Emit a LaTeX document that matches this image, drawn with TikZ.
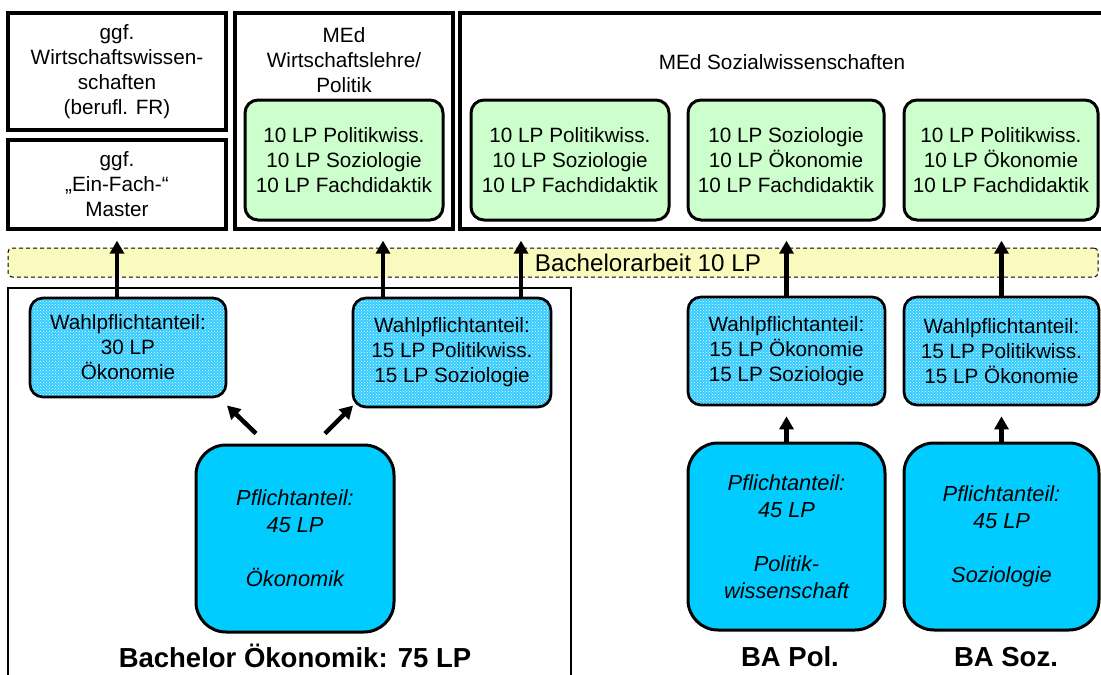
\documentclass[tikz,border=0pt]{standalone}
\usepackage{fontspec}
\setmainfont{Liberation Sans}
\usetikzlibrary{arrows.meta}
\usetikzlibrary{patterns}

\definecolor{medgreen}{RGB}{204,255,204}
\definecolor{pflichtblue}{RGB}{0,204,255}
\definecolor{wahlblue}{RGB}{51,204,255}
\definecolor{baryellow}{RGB}{250,250,190}

\begin{document}
\begin{tikzpicture}[
  x=1pt, y=-1pt,
  font=\fontsize{20.7}{25}\selectfont,
  frame/.style={draw, line width=3.3pt, inner sep=0pt, align=center},
  med/.style={draw, line width=3pt, rounded corners=13pt, fill=medgreen, align=center, minimum width=196pt, minimum height=120pt, inner sep=0pt},
  wahl/.style={draw, line width=2.7pt, rounded corners=13pt, preaction={fill=wahlblue}, pattern=crosshatch dots, pattern color=white, align=center, minimum height=108pt, inner sep=0pt},
  pflicht/.style={draw, line width=3pt, rounded corners=30pt, fill=pflichtblue, align=center, font=\fontsize{21.8}{27}\selectfont\itshape, minimum width=197pt, minimum height=187pt, inner sep=0pt},
  arrow/.style={-{Triangle[length=13pt,width=14pt]}, line width=4.5pt},
  title/.style={font=\fontsize{27.5}{30}\selectfont\bfseries}
]
\useasboundingbox (0,0) rectangle (1101,675);

% master programmes
\node[frame, minimum width=218pt, minimum height=117pt] (wiwi) at (117,71.5) {ggf.\\Wirtschaftswissen-\\schaften\\(berufl. FR)};
\node[frame, minimum width=218pt, minimum height=89pt] (einfach) at (117,184.5) {ggf.\\„Ein-Fach-“\\Master};
\node[frame, minimum width=218pt, minimum height=216pt] (medwl) at (344,121) {};
\node[align=center] (medwltxt) at (344,60) {MEd\\Wirtschaftslehre/\\Politik};
\node[frame, minimum width=645pt, minimum height=216pt] (medsw) at (782.5,121) {};
\node (medswtxt) at (782,62) {MEd Sozialwissenschaften};

\node[med, minimum width=198pt] (gwl)  at (344,160)  {10 LP Politikwiss.\\10 LP Soziologie\\10 LP Fachdidaktik};
\node[med, minimum width=198pt] (gsw1) at (570,160)  {10 LP Politikwiss.\\10 LP Soziologie\\10 LP Fachdidaktik};
\node[med]                      (gsw2) at (786,160)  {10 LP Soziologie\\10 LP Ökonomie\\10 LP Fachdidaktik};
\node[med, minimum width=194pt] (gsw3) at (1001,160) {10 LP Politikwiss.\\10 LP Ökonomie\\10 LP Fachdidaktik};

% bachelor thesis
\node[draw, line width=1pt, dash pattern=on 4pt off 3pt, rounded corners=4pt, fill=baryellow, minimum width=1090pt, minimum height=29pt, inner sep=0pt] (arbeit) at (553,262.5) {};
\node[font=\fontsize{24.2}{28}\selectfont] (arbeittxt) at (648,262.5) {Bachelorarbeit 10 LP};

% bachelor programmes
\node[frame, line width=2.5pt, minimum width=563pt, minimum height=412pt] (bachelor) at (289.5,494) {};

\node[wahl, minimum width=196pt, minimum height=99pt]  (w1) at (128,347.5)  {Wahlpflichtanteil:\\30 LP\\Ökonomie};
\node[wahl, minimum width=198pt, minimum height=109pt] (w2) at (452,352.5)  {Wahlpflichtanteil:\\15 LP Politikwiss.\\15 LP Soziologie};
\node[wahl, minimum width=197pt] (w3) at (786.5,351)  {Wahlpflichtanteil:\\15 LP Ökonomie\\15 LP Soziologie};
\node[wahl, minimum width=195pt] (w4) at (1001.5,351) {Wahlpflichtanteil:\\15 LP Politikwiss.\\15 LP Ökonomie};

\node[pflicht, minimum width=198pt] (p1) at (295,538.5)   {Pflichtanteil:\\45 LP\\[27pt]Ökonomik};
\node[pflicht]                      (p2) at (786.5,536.5) {Pflichtanteil:\\45 LP\\[27pt]Politik-\\wissenschaft};
\node[pflicht, minimum width=195pt] (p3) at (1001.5,536.5) {Pflichtanteil:\\45 LP\\[27pt]Soziologie};

\node[title] (baoek) at (295,656)  {Bachelor Ökonomik: 75 LP};
\node[title] (bapol) at (790,657)  {BA Pol.};
\node[title] (basoz) at (1006,657) {BA Soz.};

% arrows
\draw[arrow, shorten >=10pt] (w1.north -| einfach.south) -- (einfach.south);
\draw[arrow, shorten >=10pt] ([xshift=-69pt]w2.north) -- ([xshift=-69pt]w2.north |- medwl.south);
\draw[arrow, shorten >=10pt] ([xshift=69pt]w2.north) -- ([xshift=69pt]w2.north |- medsw.south);
\draw[arrow, shorten >=10pt] (w3.north) -- (w3.north |- medsw.south);
\draw[arrow, shorten >=10pt] (w4.north) -- (w4.north |- medsw.south);
\draw[arrow, shorten >=10pt] (p2) -- (w3);
\draw[arrow, shorten >=10pt] (p3) -- (w4);
\draw[arrow] ([shift={(-39,-10)}]p1.north) -- ++(-29,-28);
\draw[arrow] ([shift={(30,-10)}]p1.north) -- ++(28,-28);

\end{tikzpicture}
\end{document}
